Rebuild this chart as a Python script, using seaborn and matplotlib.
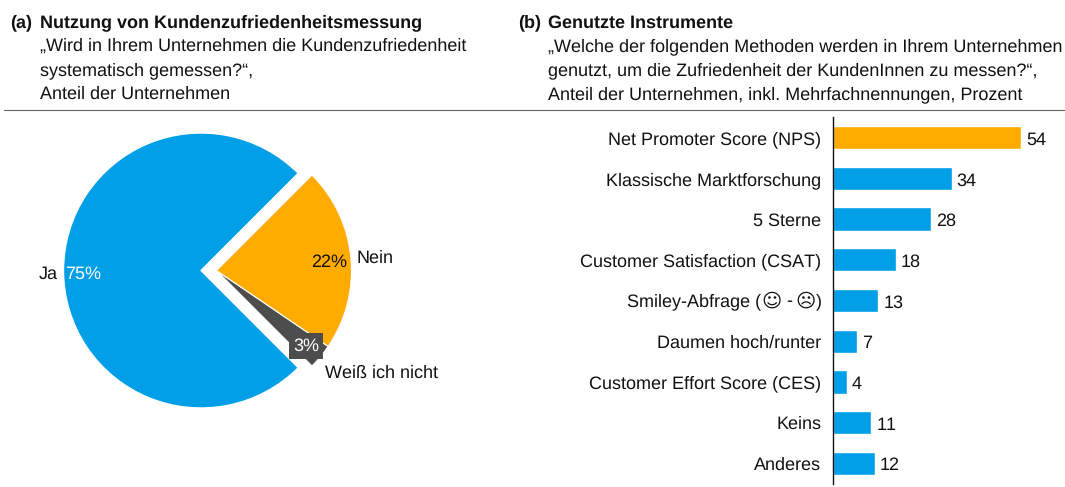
"""Kundenzufriedenheit: Kreisdiagramm (a) und Balken (b)."""

import matplotlib.pyplot as plt
import pandas as pd
import seaborn as sns

anteil_labels = ["Ja", "Nein", "Weiß ich nicht"]
anteil_werte = [75, 22, 3]

methoden = [
    "Net Promoter Score (NPS)",
    "Klassische Marktforschung",
    "5 Sterne",
    "Customer Satisfaction (CSAT)",
    "Smiley-Abfrage (☺ - ☹)",
    "Daumen hoch/runter",
    "Customer Effort Score (CES)",
    "Keins",
    "Anderes",
]
methoden_werte = [54, 34, 28, 18, 13, 7, 4, 11, 12]

BLAU = "#009FE8"
ORANGE = "#FFAB00"
GRAU = "#4D4D4D"
TEXT = "#111111"

sns.set_theme(style="white")
plt.rcParams["font.family"] = ["Liberation Sans", "Noto Sans CJK SC", "DejaVu Sans"]
plt.rcParams["text.hinting"] = "no_hinting"
plt.rcParams["text.kerning_factor"] = 6

W, H = 1065, 487
fig = plt.figure(figsize=(W / 100, H / 100), dpi=100)
FS = 13.0


def txt(x, y, s, **kw):
    fig.text(x / W, 1 - y / H, s, fontsize=FS, color=TEXT, va="baseline", **kw)


txt(10, 27.5, "(a)", fontweight="bold")
txt(40, 27.5, "Nutzung von Kundenzufriedenheitsmessung", fontweight="bold")
txt(40, 51, "„Wird in Ihrem Unternehmen die Kundenzufriedenheit")
txt(40, 75, "systematisch gemessen?“,")
txt(40, 99, "Anteil der Unternehmen")
txt(518, 27.5, "(b)", fontweight="bold")
txt(548, 27.5, "Genutzte Instrumente", fontweight="bold")
txt(548, 51, "„Welche der folgenden Methoden werden in Ihrem Unternehmen")
txt(548, 75, "genutzt, um die Zufriedenheit der KundenInnen zu messen?“,")
txt(548, 99, "Anteil der Unternehmen, inkl. Mehrfachnennungen, Prozent")
fig.add_artist(plt.Line2D([4 / W, 1065 / W], [1 - 109.5 / H] * 2, color="#666666", lw=0.8))

# Kreis: Achse in Pixeln, Ja-Stück und Rest mit eigenem Mittelpunkt
ax_pie = fig.add_axes([0, 0, 500 / W, 1 - 110 / H])
ax_pie.pie(
    [anteil_werte[0] / 100],
    colors=[BLAU],
    startangle=45,
    radius=137.5,
    center=(201, H - 270.5),
    normalize=False,
    frame=True,
)
ax_pie.pie(
    [anteil_werte[2] / 100, anteil_werte[1] / 100],
    colors=[GRAU, ORANGE],
    startangle=-45,
    radius=135,
    center=(216.5, H - 270.5),
    normalize=False,
    frame=True,
    wedgeprops={"edgecolor": "white", "linewidth": 0.8},
)
ax_pie.set_xlim(0, 500)
ax_pie.set_ylim(0, H - 110)
ax_pie.set_aspect("equal")
ax_pie.axis("off")


def pie_txt(x, y, s, ha="left", **kw):
    kw.setdefault("color", TEXT)
    ax_pie.text(x, H - y, s, fontsize=FS, ha=ha, va="center", **kw)


pie_txt(39, 274, anteil_labels[0])
pie_txt(65, 274, f"{anteil_werte[0]}%", color="white")
pie_txt(357, 258, anteil_labels[1])
pie_txt(311, 262, f"{anteil_werte[1]}%")
pie_txt(325, 373, anteil_labels[2])
pie_txt(306, 346, f"{anteil_werte[2]}%", ha="center", color="white",
        bbox={"facecolor": GRAU, "edgecolor": "none", "pad": 3})

# Balken
ax_bar = fig.add_axes([833 / W, 1 - 483.8 / H, 232 / W, 366.5 / H])
df = pd.DataFrame({"methode": methoden, "wert": methoden_werte})
sns.barplot(data=df, y="methode", x="wert", color=BLAU, saturation=1, ax=ax_bar, width=0.57, orient="h")
ax_bar.patches[0].set_facecolor(ORANGE)
ax_bar.set_xlim(0, 232 / 3.49)
ax_bar.set_xlabel("")
ax_bar.set_ylabel("")
ax_bar.set_xticks([])
ax_bar.tick_params(axis="y", length=0, pad=8.5, labelsize=FS, labelcolor=TEXT)
for s in ["top", "right", "bottom"]:
    ax_bar.spines[s].set_visible(False)
ax_bar.spines["left"].set_color(TEXT)
ax_bar.spines["left"].set_linewidth(1.0)
for i, w in enumerate(methoden_werte):
    ax_bar.annotate(str(w), (w, i), xytext=(3.6, -1.7), textcoords="offset points",
                    va="center", fontsize=FS, color=TEXT)

# Smileys größer als die Schrift: diese Zeile stückweise setzen
ax_bar.get_yticklabels()[4].set_visible(False)
for x, teil, ha, fs, familie in [
    (761.5, "Smiley-Abfrage (", "right", FS, "Liberation Sans"),
    (772, "☺", "center", 14, "DejaVu Sans"),
    (789, "-", "center", FS, "Liberation Sans"),
    (806, "☹", "center", 14, "DejaVu Sans"),
    (822, ")", "right", FS, "Liberation Sans"),
]:
    fig.text(x / W, 1 - 301.5 / H, teil, fontsize=fs, color=TEXT, ha=ha, va="center", family=familie)

fig.savefig("out.png", dpi=100)
